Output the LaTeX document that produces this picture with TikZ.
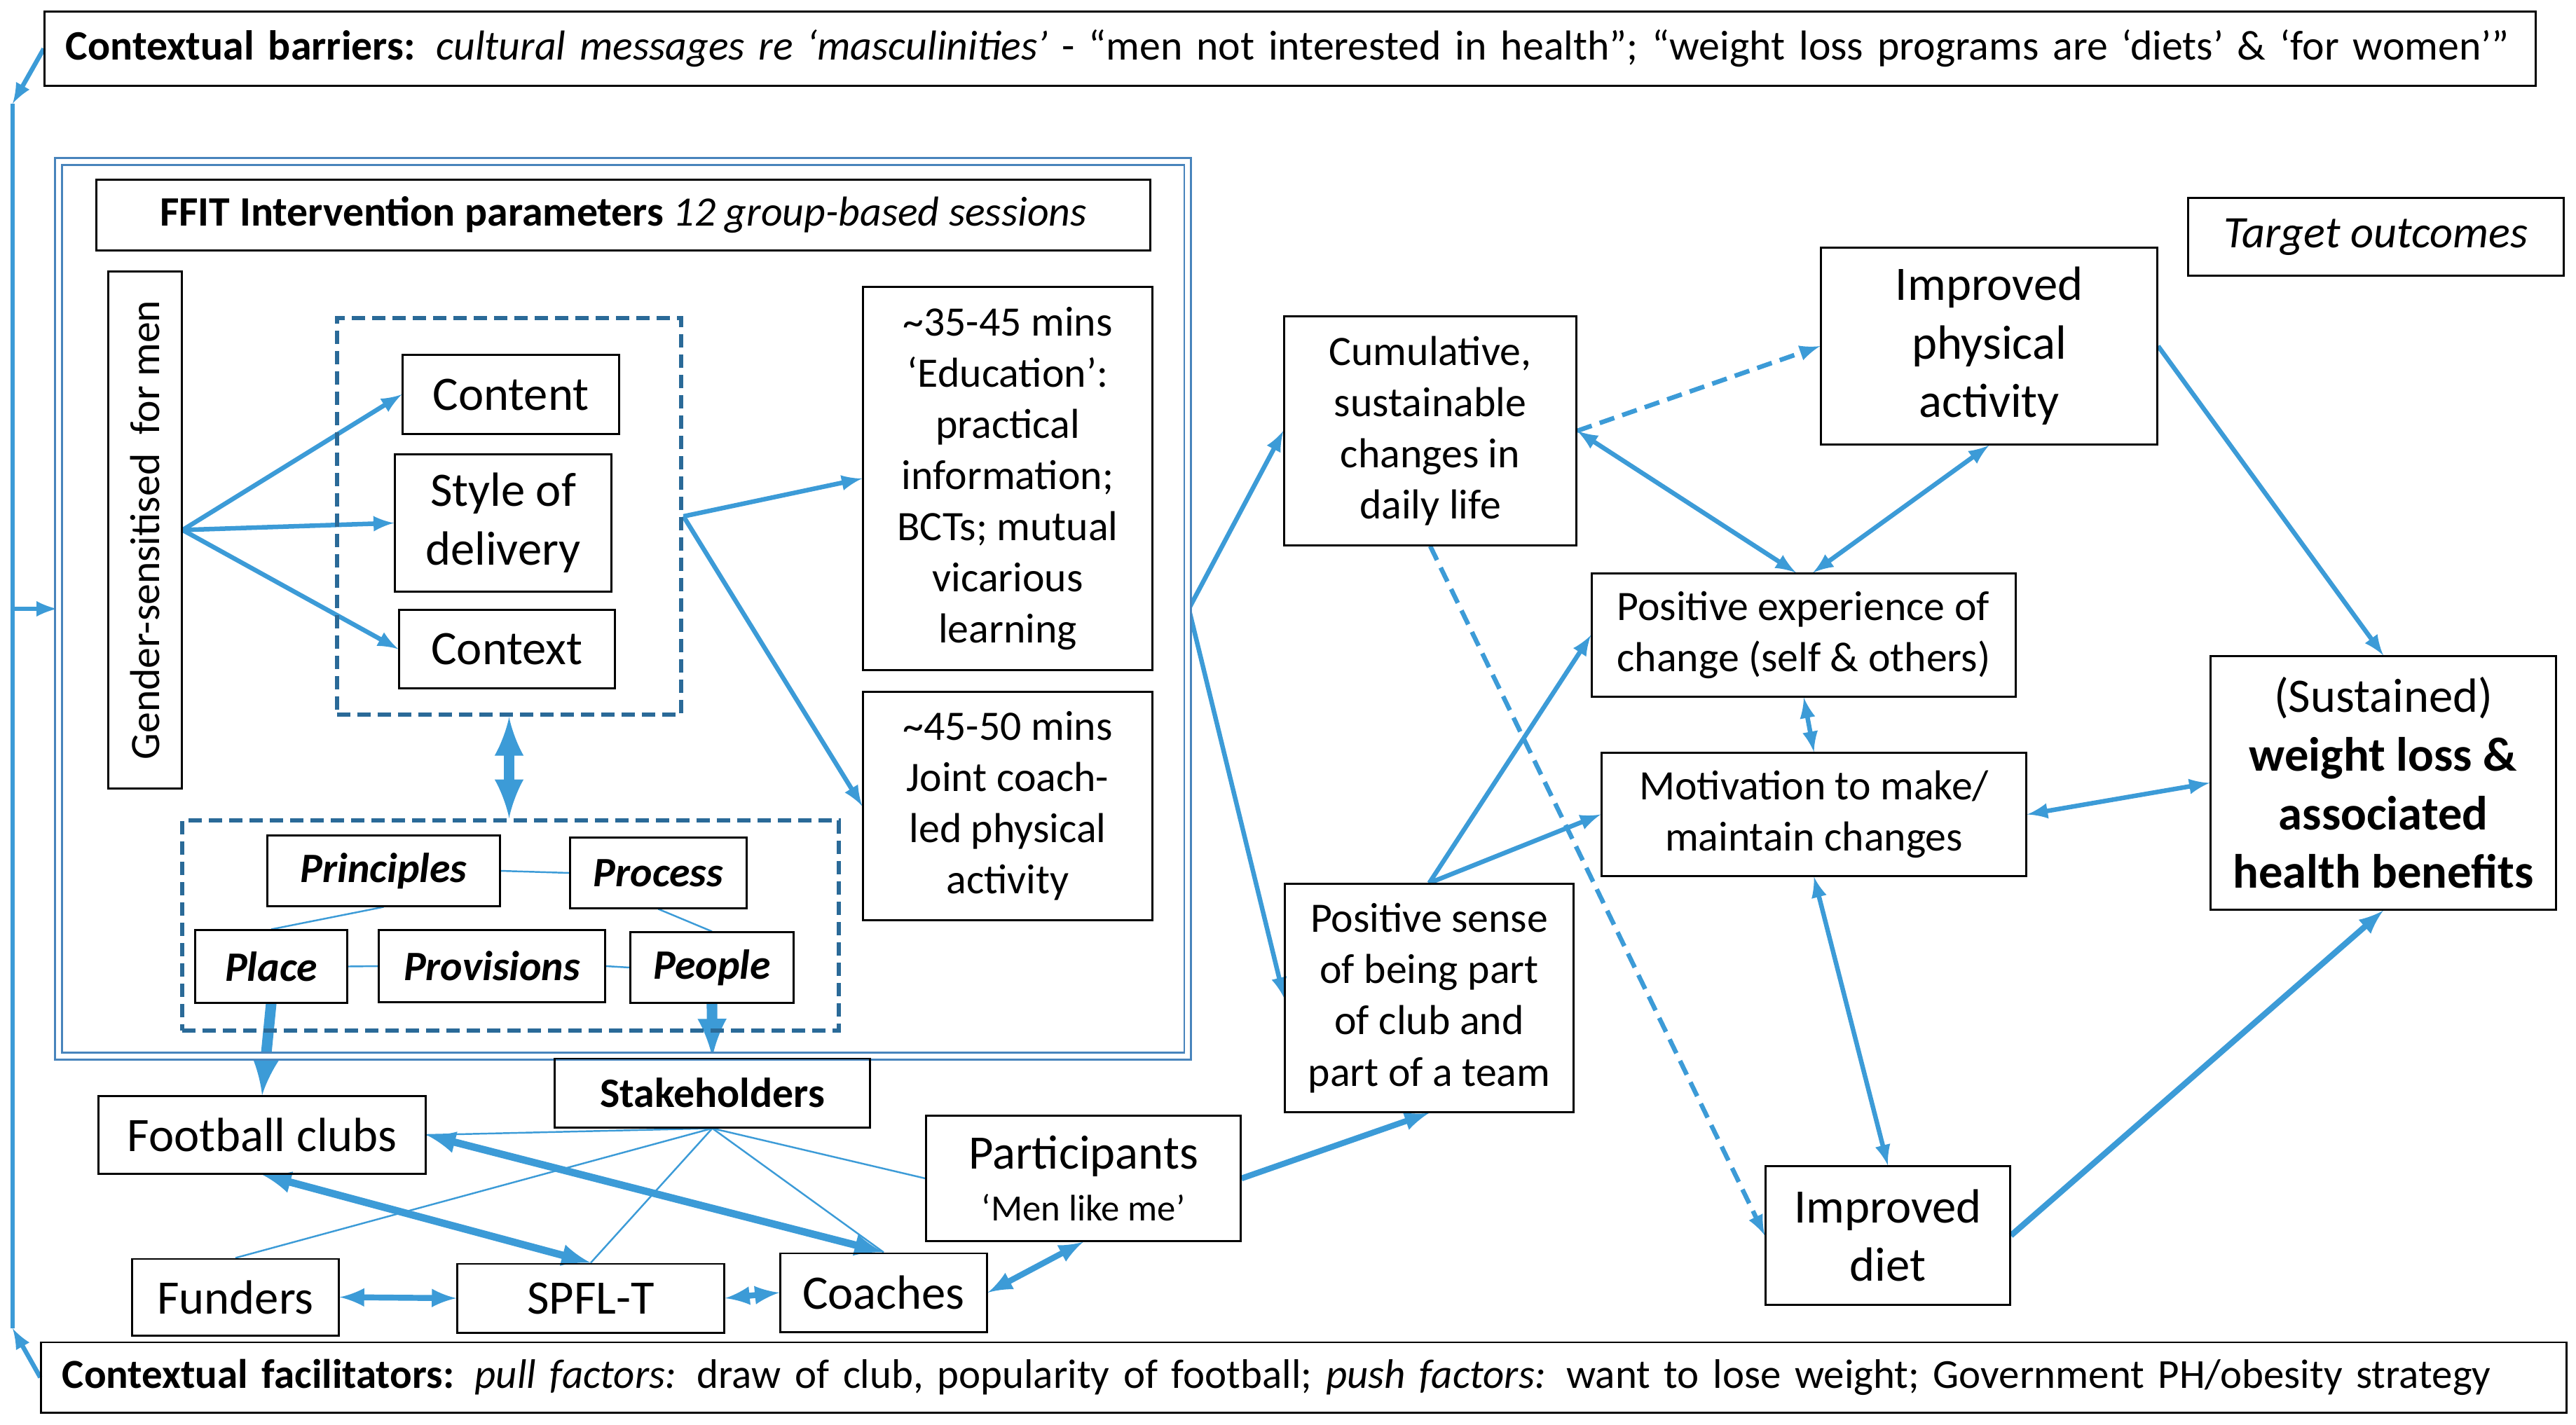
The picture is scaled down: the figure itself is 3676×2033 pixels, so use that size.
\documentclass[tikz,border=0pt]{standalone}
\usepackage{fontspec}
\setmainfont{Carlito}
\usepackage{tikz}
\usetikzlibrary{arrows}
\usetikzlibrary{calc}
\definecolor{flowblue}{RGB}{60,155,215}
\definecolor{groupblue}{RGB}{42,106,152}
\definecolor{frameblue}{RGB}{72,132,188}
\newcommand{\fbar}{\fontsize{17pt}{20pt}\selectfont}
\newcommand{\ffac}{\fontsize{16.75pt}{20pt}\selectfont}
\newcommand{\fsmall}{\fontsize{17pt}{20.8pt}\selectfont}
\newcommand{\fbig}{\fontsize{19.5pt}{23.8pt}\selectfont}
\pgfdeclarelayer{nodelayer}
\pgfdeclarelayer{edgelayer}
\pgfsetlayers{edgelayer,nodelayer,main}
\tikzset{cell/.style={draw=black, line width=0.85pt, inner sep=0pt, align=center, font=\fsmall}}
\tikzset{bigcell/.style={cell, font=\fbig}}
\tikzset{group/.style={draw=groupblue, line width=1.8pt, dash pattern=on 0.19cm off 0.1cm, inner sep=0pt}}
\tikzset{shell/.style={draw=frameblue, double=white, double distance=0.07cm, line width=0.85pt, inner sep=0pt}}
\tikzset{flow/.style={draw=flowblue, line width=1.85pt, >=latex}}
\tikzset{mid/.style={flow, line width=2.4pt}}
\tikzset{heavy/.style={flow, line width=3pt}}
\tikzset{broad/.style={flow, line width=4.3pt}}
\tikzset{weak/.style={flow, dash pattern=on 0.22cm off 0.12cm}}
\tikzset{link/.style={draw=flowblue, line width=0.7pt}}

\begin{document}
\begin{tikzpicture}[x=0.01cm, y=-0.01cm]
        \useasboundingbox (0,0) rectangle (3676,2033);
        \begin{pgfonlayer}{nodelayer}
            \node [style=cell, font=\fbar, text width=34.92cm, align=left, inner xsep=0.3cm, minimum height=1.05cm] (barriers) at (1841, 69.5) {\textbf{Contextual barriers:} \textit{cultural messages re ‘masculinities’} - “men not interested in health”; “weight loss programs are ‘diets’ \& ‘for women’”};
            \node [style=cell, font=\ffac, text width=35.41cm, align=left, inner xsep=0.3cm, minimum height=1.0cm] (facil) at (1860.5, 1966) {\textbf{Contextual facilitators:} \textit{pull factors:} draw of club, popularity of football; \textit{push factors:} want to lose weight; Government PH/obesity strategy};
            \node [style=shell, minimum width=16.11cm, minimum height=12.77cm] (ffitframe) at (889, 869) {};
            \node [style=cell, minimum width=15.03cm, minimum height=1.0cm] (ffit) at (889.5, 307) {\textbf{FFIT Intervention parameters} \textit{12 group-based sessions}};
            \node [style=cell, rotate=90, minimum width=7.37cm, minimum height=1.04cm] (gender) at (207, 756.5) {Gender-sensitised\ \ for men};
            \node [style=group, minimum width=4.91cm, minimum height=5.66cm] (delivery) at (726.5, 737) {};
            \node [style=bigcell, minimum width=3.08cm, minimum height=1.12cm] (content) at (729, 563) {Content};
            \node [style=bigcell, minimum width=3.08cm, minimum height=1.95cm] (styleof) at (718, 746.5) {Style of\\delivery};
            \node [style=bigcell, minimum width=3.07cm, minimum height=1.11cm] (context) at (723.5, 926.5) {Context};
            \node [style=cell, minimum width=4.12cm, minimum height=5.46cm] (edu) at (1438, 683) {\textasciitilde35-45 mins\\‘Education’:\\practical\\information;\\BCTs; mutual\\vicarious\\learning};
            \node [style=cell, minimum width=4.12cm, minimum height=3.25cm] (session) at (1438, 1150.5) {\textasciitilde45-50 mins\\Joint coach-\\led physical\\activity};
            \node [style=group, minimum width=9.37cm, minimum height=3.0cm] (pgroup) at (728.5, 1321) {};
            \node [style=cell, font=\fsmall\bfseries\itshape, minimum width=3.31cm, minimum height=1.0cm] (principles) at (547.5, 1243) {Principles};
            \node [style=cell, font=\fsmall\bfseries\itshape, minimum width=2.51cm, minimum height=1.0cm] (process) at (939.5, 1246) {Process};
            \node [style=cell, font=\fsmall\bfseries\itshape, minimum width=2.16cm, minimum height=1.03cm] (place) at (387, 1379.5) {Place};
            \node [style=cell, font=\fsmall\bfseries\itshape, minimum width=3.22cm, minimum height=1.02cm] (provisions) at (702, 1379) {Provisions};
            \node [style=cell, font=\fsmall\bfseries\itshape, minimum width=2.32cm, minimum height=1.0cm] (people) at (1016, 1381) {People};
            \node [style=cell, font=\fsmall\bfseries, minimum width=4.49cm, minimum height=0.98cm] (stake) at (1016.5, 1560) {Stakeholders};
            \node [style=bigcell, minimum width=4.66cm, minimum height=1.1cm] (clubs) at (374, 1620) {Football clubs};
            \node [style=bigcell, minimum width=2.94cm, minimum height=1.09cm] (funders) at (336, 1851.5) {Funders};
            \node [style=bigcell, minimum width=3.8cm, minimum height=0.98cm] (spfl) at (843, 1853) {SPFL-T};
            \node [style=bigcell, minimum width=2.94cm, minimum height=1.12cm] (coaches) at (1261, 1845) {Coaches};
            \node [style=bigcell, minimum width=4.48cm, minimum height=1.78cm] (participants) at (1546, 1682) {Participants\\[-3pt]{\fontsize{15pt}{18pt}\selectfont ‘Men like me’}};
            \node [style=cell, minimum width=4.11cm, minimum height=3.25cm] (sense) at (2039.5, 1424.5) {Positive sense\\of being part\\of club and\\part of a team};
            \node [style=cell, minimum width=4.16cm, minimum height=3.26cm] (cumul) at (2041, 615) {Cumulative,\\sustainable\\changes in\\daily life};
            \node [style=cell, align=left, minimum width=6.04cm, minimum height=1.75cm] (experience) at (2574, 906.5) {Positive experience of\\change (self \& others)};
            \node [style=cell, minimum width=6.05cm, minimum height=1.75cm] (motivation) at (2588.5, 1162.5) {Motivation to make/\\maintain changes};
            \node [style=bigcell, minimum width=4.79cm, minimum height=2.8cm] (activity) at (2838.5, 494) {Improved\\physical\\activity};
            \node [style=cell, font=\fontsize{18.3pt}{22pt}\selectfont\itshape, minimum width=5.35cm, minimum height=1.1cm] (target) at (3390.5, 338) {Target outcomes};
            \node [style=bigcell, minimum width=4.92cm, minimum height=3.61cm] (sustained) at (3401, 1117.5) {(Sustained)\\\textbf{weight loss \&}\\\textbf{associated}\\\textbf{health benefits}};
            \node [style=bigcell, minimum width=3.48cm, minimum height=1.97cm] (diet) at (2694, 1763.5) {Improved\\diet};
            \coordinate (lt) at (18, 148);
            \coordinate (lm) at (18, 869);
            \coordinate (lb) at (18, 1896);
        \end{pgfonlayer}
        \begin{pgfonlayer}{edgelayer}
            \draw [style=flow, ->] (barriers.west) to (lt);
            \draw [style=flow] (lt) to (lb);
            \draw [style=flow, ->] (facil.west) to (lb);
            \draw [style=flow, ->] (lm) to (ffitframe.west);
            \draw [style=flow, ->] (gender.south) to (content.west);
            \draw [style=flow, ->] (gender.south) to (styleof.west);
            \draw [style=flow, ->] (gender.south) to (context.west);
            \draw [style=flow, ->] (delivery.east) to (edu.west);
            \draw [style=flow, ->] (delivery.east) to (session.west);
            \draw [style=broad, <->] (delivery.south) to (delivery.south |- pgroup.north);
            \draw [style=link] (principles.east) to (process.west);
            \draw [style=link] (principles.south) to (place.north);
            \draw [style=link] (process.south) to (people.north);
            \draw [style=link] (place.east) to (provisions.west);
            \draw [style=link] (provisions.east) to (people.west);
            \draw [style=broad, ->] (place.south) to (clubs.north);
            \draw [style=broad, ->] (people.south) to (stake.north);
            \draw [style=link] (stake.south) to (clubs.east);
            \draw [style=link] (stake.south) to (funders.north);
            \draw [style=link] (stake.south) to (spfl.north);
            \draw [style=link] (stake.south) to (coaches.north);
            \draw [style=link] (stake.south) to (participants.west);
            \draw [style=heavy, <->] (clubs.east) to (coaches.north);
            \draw [style=heavy, <->] (clubs.south) to (spfl.north);
            \draw [style=mid, <->] (funders.east) to (spfl.west);
            \draw [style=mid, <->] (spfl.east) to (coaches.west);
            \draw [style=mid, <->] (coaches.east) to (participants.south);
            \draw [style=mid, ->] (participants.east) to (sense.south);
            \draw [style=flow, ->] (ffitframe.east) to (cumul.west);
            \draw [style=flow, ->] (ffitframe.east) to (sense.west);
            \draw [style=flow, <->] (cumul.east) to ([xshift=-0.11cm]experience.north);
            \draw [style=flow, <->] (activity.south) to ([xshift=0.13cm]experience.north);
            \draw [style=weak, ->] (cumul.east) to (activity.west);
            \draw [style=weak, ->] (cumul.south) to (diet.west);
            \draw [style=flow, ->] (sense.north) to (experience.west);
            \draw [style=flow, ->] (sense.north) to (motivation.west);
            \draw [style=flow, <->] (experience.south) to (motivation.north);
            \draw [style=flow, <->] (motivation.east) to (sustained.west);
            \draw [style=flow, <->] (motivation.south) to (diet.north);
            \draw [style=flow, ->] (activity.east) to (sustained.north);
            \draw [style=mid, ->] (diet.east) to (sustained.south);
        \end{pgfonlayer}
    \end{tikzpicture}
\end{document}
